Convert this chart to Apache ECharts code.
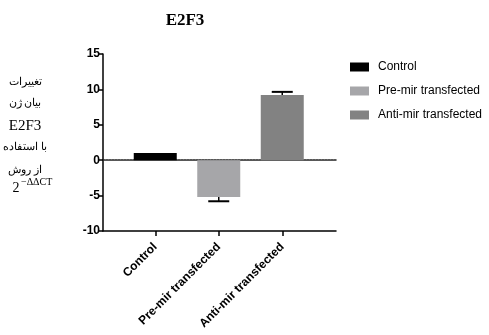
<!DOCTYPE html>
<html><head><meta charset="utf-8">
<script src="https://cdn.jsdelivr.net/npm/echarts@6/dist/echarts.min.js"></script>
<style>html,body{margin:0;padding:0;background:#fff}#c{width:489px;height:335px}</style>
</head><body><div id="c"></div>
<script>
var categories = ['Control', 'Pre-mir transfected', 'Anti-mir transfected'];
var barValues = [1.0, -5.2, 9.2];
var errorValues = [null, -5.8, 9.65];
var barColors = ['#000000', '#a6a6a9', '#828282'];
var yTicks = { min: -10, max: 15, interval: 5 };
var chartTitle = 'E2F3';
var yTitleLines = ['تغییرات', 'بیان ژن', 'E2F3', 'با استفاده', 'از روش'];

var chart = echarts.init(document.getElementById('c'), null, { renderer: 'canvas' });

var series = categories.map(function (name, i) {
  return {
    name: name, type: 'bar', stack: 'all', xAxisIndex: 0, yAxisIndex: 0,
    barWidth: 43,
    itemStyle: { color: barColors[i] },
    data: categories.map(function (c, j) { return j === i ? barValues[i] : '-'; })
  };
});
series.push({
  type: 'custom', xAxisIndex: 0, yAxisIndex: 0, z: 5,
  data: categories.map(function (c, i) { return [i, barValues[i], errorValues[i]]; })
    .filter(function (d) { return d[2] != null; }),
  renderItem: function (params, api) {
    var p0 = api.coord([api.value(0), api.value(1)]);
    var p1 = api.coord([api.value(0), api.value(2)]);
    var half = 10.5;
    return {
      type: 'group', children: [
        { type: 'line', shape: { x1: p0[0], y1: p0[1], x2: p1[0], y2: p1[1] }, style: { stroke: '#000', lineWidth: 1.5 } },
        { type: 'line', shape: { x1: p1[0] - half, y1: p1[1], x2: p1[0] + half, y2: p1[1] }, style: { stroke: '#000', lineWidth: 2 } }
      ]
    };
  }
});
series.push({ type: 'line', xAxisIndex: 1, yAxisIndex: 1, data: [], silent: true });

var graphics = [
  { type: 'text', x: 185, y: 21, style: { text: chartTitle, fill: '#000', font: 'bold 17px "Liberation Serif", serif', textAlign: 'center', textVerticalAlign: 'middle' } }
];
var lineYs = [82, 103.5, 126, 147.5, 170];
yTitleLines.forEach(function (t, i) {
  graphics.push({ type: 'text', x: 25, y: lineYs[i], style: { text: t, fill: '#000', font: (i === 2 ? '15px' : '11px') + ' "Liberation Serif", serif', textAlign: 'center', textVerticalAlign: 'middle' } });
});
graphics.push({ type: 'text', x: 16, y: 188, style: { text: '2', fill: '#000', font: '14px "Liberation Serif", serif', textAlign: 'center', textVerticalAlign: 'middle' } });
graphics.push({ type: 'text', x: 21, y: 182, style: { text: '\u2212\u0394\u0394CT', fill: '#000', font: '10px "Liberation Serif", serif', textAlign: 'left', textVerticalAlign: 'middle' } });

chart.setOption({
  animation: false,
  backgroundColor: '#fff',
  graphic: graphics,
  legend: {
    orient: 'vertical', left: 345, top: 56, itemWidth: 19, itemHeight: 9, itemGap: 12,
    icon: 'rect',
    data: categories,
    textStyle: { color: '#000', fontSize: 12, padding: [0, 0, 0, 4], fontFamily: '"Liberation Sans", Arial, sans-serif' }
  },
  grid: [
    { left: 123.5, width: 190.5, top: 54, height: 177 },
    { left: 103, width: 233, top: 54, height: 177 }
  ],
  xAxis: [
    { type: 'category', gridIndex: 0, data: categories,
      axisLine: { show: false, onZero: false },
      axisTick: { show: true, alignWithLabel: true, length: 5, lineStyle: { color: '#000', width: 1.5 } },
      axisLabel: { rotate: 45, margin: 14, color: '#000', fontWeight: 'bold', fontSize: 12, fontFamily: '"Liberation Sans", Arial, sans-serif' } },
    { type: 'value', gridIndex: 1, min: 0, max: 1, position: 'bottom',
      axisLine: { show: true, onZero: false, lineStyle: { color: '#000', width: 1.5 } },
      axisTick: { show: false }, axisLabel: { show: false }, splitLine: { show: false } },
    { type: 'value', gridIndex: 1, min: 0, max: 1, position: 'top',
      axisLine: { show: true, onZero: true, lineStyle: { color: '#222', width: 1.5, type: [2, 1] } },
      axisTick: { show: false }, axisLabel: { show: false }, splitLine: { show: false } }
  ],
  yAxis: [
    { type: 'value', gridIndex: 0, min: yTicks.min, max: yTicks.max, interval: yTicks.interval, show: false },
    { type: 'value', gridIndex: 1, min: yTicks.min, max: yTicks.max, interval: yTicks.interval,
      axisLine: { show: true, onZero: false, lineStyle: { color: '#000', width: 1.5 } },
      axisTick: { show: true, length: 5, lineStyle: { color: '#000', width: 1.5 } },
      axisLabel: { margin: 3, color: '#000', fontWeight: 'bold', fontSize: 12, fontFamily: '"Liberation Sans", Arial, sans-serif' },
      splitLine: { show: false } }
  ],
  series: series
});
</script></body></html>
